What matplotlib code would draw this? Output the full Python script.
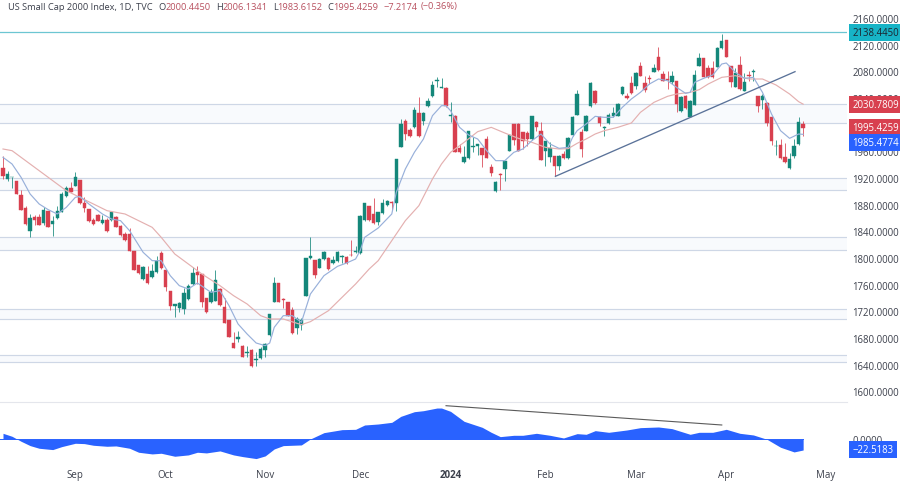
import matplotlib
matplotlib.use("Agg")
import matplotlib.pyplot as plt
import numpy as np

plt.rcParams["font.family"] = ["Open Sans", "DejaVu Sans"]

# daily candles
opens = [
    1934.5, 1918.5, 1921, 1915, 1895, 1875, 1841, 1861.5, 1861.5, 1852,
    1870, 1851.5, 1860, 1869.5, 1893.5, 1904.5, 1908.5, 1917.5, 1882, 1873.5,
    1857.5, 1865, 1852, 1857, 1856.5, 1862, 1848.5, 1836, 1836.5, 1811,
    1790, 1768.5, 1776.5, 1771.5, 1778.5, 1807, 1782.5, 1750, 1728.5, 1725,
    1723, 1738, 1760.5, 1778.5, 1775.5, 1740.5, 1734.5, 1736, 1753.5, 1726.5,
    1706.5, 1673, 1678.5, 1668.5, 1657.5, 1662.5, 1647.5, 1650, 1662.5, 1685,
    1734.5, 1762, 1738, 1734, 1722, 1694.5, 1699.5, 1742.5, 1799.5, 1797.5,
    1785, 1798.5, 1800.5, 1793, 1795, 1801.5, 1801, 1805, 1809.5, 1807.5,
    1856.5, 1878, 1865.5, 1854.5, 1867, 1880, 1883.5, 1882.5, 1967, 2006,
    1992.5, 1996, 2018, 2006, 2028, 2042.5, 2065, 2055.5, 2055, 2013.5,
    2013.5, 1965, 1943.5, 1949.5, 1966.5, 1968, 1964.5, 1978.5, 1936, 1900,
    1925.5, 1933.5, 1961, 2001, 2001, 1988.5, 1987.5, 1978.5, 2003.5, 1990.5,
    1961, 1951, 1952.5, 1937.5, 1955.5, 1949.5, 1984.5, 2015, 1988.5, 1991,
    2027.5, 2051, 2011, 1994.5, 2002.5, 2012.5, 2013.5, 2046, 2043.5, 2062,
    2058.5, 2088.5, 2062, 2069.5, 2079.5, 2101, 2076, 2068.5, 2063.5, 2065,
    2021, 2043.5, 2012, 2030, 2088.5, 2099.5, 2084.5, 2084.5, 2087, 2115,
    2127, 2087.5, 2057, 2090, 2051, 2074.5, 2078.5, 2043.5, 2037, 2032.5,
    2011.5, 1967.5, 1969.5, 1952, 1935, 1952.5, 1970.5, 2000.4450,
]
highs = [
    1953.5, 1930, 1922, 1915, 1902.5, 1878.5, 1866, 1865, 1866, 1877,
    1871, 1862.5, 1878.5, 1898.5, 1908.5, 1913.5, 1928.5, 1917.5, 1891, 1873.5,
    1859.5, 1866, 1864.5, 1859.5, 1869.5, 1863.5, 1849.5, 1839.5, 1844.5, 1811,
    1790, 1788.5, 1787.5, 1791, 1803.5, 1810.5, 1783.5, 1750, 1731, 1734.5,
    1754.5, 1761, 1786, 1787.5, 1776.5, 1740.5, 1753.5, 1781.5, 1754.5, 1740.5,
    1706.5, 1689.5, 1691, 1669.5, 1667.5, 1663.5, 1658.5, 1666, 1672.5, 1716,
    1771.5, 1762, 1740, 1734, 1726, 1711, 1709.5, 1799.5, 1831, 1797.5,
    1799.5, 1811, 1801.5, 1803.5, 1811, 1805, 1802.5, 1827.5, 1817.5, 1864.5,
    1882.5, 1878, 1889.5, 1869.5, 1888.5, 1887.5, 1886, 1948.5, 2008.5, 2008.5,
    1994.5, 2026, 2041, 2018.5, 2039.5, 2066, 2071, 2069.5, 2056, 2033.5,
    2014.5, 1971, 1967.5, 1991, 1981, 1971, 1965.5, 1983.5, 1940.5, 1915.5,
    1927, 1946, 1985.5, 2001, 2002, 1989.5, 1991, 2013.5, 2006, 2003.5,
    1976, 1973.5, 1953.5, 1954.5, 1961, 1981.5, 2012.5, 2052.5, 1993.5, 2014.5,
    2063.5, 2052, 2013.5, 1998.5, 2017.5, 2027, 2032, 2058.5, 2047, 2072.5,
    2079.5, 2093.5, 2072.5, 2074.5, 2091, 2116, 2081, 2081, 2081, 2065,
    2042.5, 2044.5, 2037, 2082.5, 2107, 2100.5, 2089.5, 2096, 2116, 2136,
    2127.5, 2088.5, 2085, 2102.5, 2077.5, 2081, 2083.5, 2043.5, 2046, 2033.5,
    2012.5, 1977, 1978.5, 1972.5, 1957, 1978.5, 2011, 2006.1341,
]
lows = [
    1918.5, 1916, 1904.5, 1896, 1872.5, 1850, 1832, 1849.5, 1849.5, 1850,
    1846.5, 1833.5, 1858.5, 1868.5, 1891, 1898.5, 1907.5, 1881, 1869.5, 1853.5,
    1850, 1855, 1851, 1839, 1855.5, 1846, 1833.5, 1826, 1810.5, 1782,
    1776, 1767, 1761, 1769.5, 1777.5, 1783.5, 1751, 1722.5, 1711, 1719.5,
    1716, 1737, 1759.5, 1761, 1726, 1717.5, 1732.5, 1735, 1728.5, 1702,
    1681.5, 1664.5, 1673.5, 1651, 1651, 1636, 1638.5, 1648.5, 1651, 1683.5,
    1733.5, 1733.5, 1725, 1713.5, 1686, 1686, 1692.5, 1742.5, 1798.5, 1769.5,
    1784.5, 1797, 1782.5, 1791.5, 1794.5, 1792.5, 1791.5, 1803.5, 1807.5, 1806,
    1855.5, 1855.5, 1851.5, 1849.5, 1866, 1878.5, 1872.5, 1871, 1966, 1977,
    1981.5, 1995, 1981.5, 1999.5, 2027, 2041, 2056, 2054.5, 2027, 2004.5,
    1958.5, 1957.5, 1942.5, 1948.5, 1958.5, 1954.5, 1936, 1949.5, 1922.5, 1899.5,
    1902.5, 1916, 1960.5, 1969.5, 1960, 1963.5, 1967.5, 1977, 1991, 1946.5,
    1937.5, 1943.5, 1923.5, 1932.5, 1948.5, 1948.5, 1983.5, 2014.5, 1951, 1990,
    2027, 2031.5, 1998.5, 1983.5, 2001.5, 2011, 2012.5, 2045, 2038.5, 2046.5,
    2053.5, 2072.5, 2049.5, 2061, 2078.5, 2081, 2065, 2053.5, 2061, 2018.5,
    2019.5, 2023.5, 2011, 2029, 2087.5, 2071, 2070, 2070, 2086, 2114,
    2101, 2056, 2056, 2052.5, 2050, 2066, 2066, 2018.5, 2023.5, 1997.5,
    1970, 1955, 1948.5, 1942.5, 1933.5, 1950, 1969.5, 1983.6152,
]
closes = [
    1922.5, 1926, 1922, 1896, 1872.5, 1851, 1860, 1856.5, 1850, 1871.5,
    1847, 1855, 1870.5, 1896.5, 1904.5, 1899.5, 1921.5, 1882, 1874.5, 1856,
    1851.5, 1856, 1857, 1840.5, 1868.5, 1847, 1834.5, 1827, 1811, 1782.5,
    1777, 1786, 1762, 1780.5, 1796, 1785, 1757, 1727.5, 1731, 1733,
    1747.5, 1757.5, 1777.5, 1774, 1734.5, 1719, 1749.5, 1767.5, 1729.5, 1703,
    1682, 1665.5, 1681.5, 1652, 1658.5, 1637.5, 1648.5, 1664, 1671, 1716,
    1762, 1734.5, 1737, 1713.5, 1687.5, 1708.5, 1707.5, 1799.5, 1802.5, 1774.5,
    1798.5, 1808.5, 1783.5, 1797, 1808.5, 1802.5, 1792.5, 1804, 1810.5, 1863.5,
    1882.5, 1856.5, 1852.5, 1868.5, 1882, 1885, 1882, 1948.5, 2001, 1986,
    1982.5, 2022, 1982.5, 2017.5, 2035.5, 2059.5, 2067.5, 2056.5, 2027.5, 2014.5,
    1959.5, 1958.5, 1952, 1990, 1968.5, 1970.5, 1955, 1950.5, 1927.5, 1914.5,
    1924.5, 1945, 1984.5, 1977, 1961, 1976, 1978.5, 2012.5, 1996, 1947.5,
    1975, 1964.5, 1937.5, 1953.5, 1949.5, 1980.5, 2011, 2046, 1963.5, 2013.5,
    2062.5, 2032.5, 2002.5, 1996, 2015, 2017.5, 2031, 2057, 2039.5, 2047.5,
    2077.5, 2073.5, 2052.5, 2068.5, 2085, 2082.5, 2066, 2067.5, 2072.5, 2031,
    2041, 2024.5, 2036, 2075, 2099.5, 2072, 2071, 2071, 2115, 2125,
    2102, 2064.5, 2077.5, 2053.5, 2064.5, 2073.5, 2080, 2028.5, 2043.5, 2002.5,
    1975, 1968.5, 1949.5, 1943.5, 1948.5, 1968.5, 2003.5, 1995.4259,
]

# moving averages, sampled at these bars
fast_bars = [0, 2, 4, 6, 8, 10, 12, 14, 16, 17, 19, 22, 24, 26, 28, 31, 33, 35, 37, 39,
             41, 43, 46, 48, 50, 52, 54, 56, 58, 59, 60, 62, 64, 66, 68, 71, 74, 76, 78, 79,
             80, 83, 86, 87, 89, 91, 93, 95, 97, 98, 99, 101, 103, 105, 107, 109, 111, 113, 115, 117,
             119, 121, 123, 125, 126, 127, 129, 131, 133, 135, 137, 139, 141, 143, 145, 147, 149, 151, 152, 153,
             155, 157, 159, 160, 162, 164, 166, 168, 170, 172, 174, 176, 177]
fast_ma = [1951, 1941, 1921, 1896, 1881, 1872.5, 1866, 1876, 1891, 1892.5, 1881, 1866, 1858.5, 1856, 1841, 1808.5, 1796, 1796, 1773.5, 1758.5,
           1753.5, 1762.5, 1748.5, 1751, 1728.5, 1701, 1686, 1672.5, 1668.5, 1672.5, 1696, 1713.5, 1713.5, 1703.5, 1746, 1773.5, 1787.5, 1792.5, 1798.5, 1811,
           1831, 1845, 1866, 1898.5, 1933.5, 1958.5, 1978.5, 2013.5, 2028.5, 2028.5, 2021, 1996, 1984.5, 1978.5, 1961, 1946, 1946, 1958.5, 1963.5, 1976,
           1986, 1971, 1964.5, 1966, 1981, 1991, 2001, 2012.5, 2011, 2011, 2026, 2038.5, 2048.5, 2061, 2068.5, 2066, 2056, 2047, 2048.5, 2063.5,
           2069.5, 2074.5, 2091, 2092.5, 2078.5, 2069.5, 2071, 2048.5, 2016, 1991, 1979.5, 1986, 1985.4774]

slow_bars = [0, 2, 4, 7, 9, 12, 14, 17, 20, 23, 27, 30, 33, 35, 38, 41, 44, 48, 51, 54,
             57, 59, 62, 66, 68, 72, 75, 78, 81, 83, 86, 89, 92, 95, 97, 99, 102, 105, 108, 111,
             114, 117, 120, 123, 125, 127, 129, 131, 133, 136, 139, 141, 144, 147, 149, 152, 154, 156, 159, 162,
             165, 168, 171, 174, 176, 177]
slow_ma = [1963.5, 1961, 1951, 1936, 1926, 1911, 1901, 1891, 1881, 1871, 1866, 1856, 1846, 1831, 1806, 1791, 1776, 1758.5, 1743.5, 1731,
           1713.5, 1708.5, 1708.5, 1700, 1704.5, 1721, 1741, 1761, 1783.5, 1796, 1826, 1856, 1878.5, 1918.5, 1941, 1958.5, 1973.5, 1989.5, 1996, 1987.5,
           1979.5, 1973.5, 1966, 1963.5, 1964, 1972, 1978.5, 1986, 1991, 1996, 2002.5, 2018.5, 2033.5, 2042.5, 2046, 2048.5, 2052.5, 2061, 2071, 2073.5,
           2068.5, 2068.5, 2059.5, 2046, 2034.5, 2030.7809]

# lower panel oscillator
osc_bars = [0, 2, 4, 6, 8, 11, 13, 16, 18, 20, 23, 25, 28, 30, 33, 35, 38, 41, 43, 45,
            48, 51, 53, 56, 58, 60, 62, 66, 68, 71, 75, 78, 80, 83, 86, 88, 91, 93, 96, 97,
            99, 102, 106, 108, 110, 113, 115, 118, 121, 124, 127, 129, 131, 134, 138, 141, 145, 148, 152, 154,
            157, 160, 163, 166, 169, 172, 175, 177]
osc_values = [12.6, 6.3, -4.2, -13.3, -18.9, -21.7, -15.4, -8.4, -9.1, -12.6, -14.7, -14, -18.9, -27.3, -30.8, -29.4, -35.7, -32.9, -27.3, -28.7,
              -24.5, -32.9, -36.4, -40.6, -35, -20.3, -13.3, -11.9, 0.7, 14, 20.3, 21, 30.1, 32.2, 35.7, 48.3, 58.1, 60.2, 65.8, 65.8,
              58.8, 37.8, 25.2, 14.7, 5.6, 8.4, 8.4, 12.6, 8.4, 2.8, 11.9, 10.5, 18.2, 14.7, 19.6, 24.5, 25.9, 22.4, 10.5, 14.7,
              14.7, 21, 12.6, 9.1, 0, -16.8, -26.6, -22.5183]

# horizontal zones (upper, lower)
zones = [(2030.5, 2002), (1919.5, 1902), (1831, 1811.5), (1723, 1708.5), (1654, 1643.5)]
resistance = 2138.4450

month_bars = [16, 36, 58, 79, 99, 120, 140, 160, 182]
month_labels = ["Sep", "Oct", "Nov", "Dec", "2024", "Feb", "Mar", "Apr", "May"]
price_ticks = list(range(1600, 2161, 40))

GREEN = "#14877a"
RED = "#d8404f"
BLUE = "#2962ff"
TEXT = "#3c404c"
ZONE_LINE = "#ced7e6"

W, H = 900, 485
fig = plt.figure(figsize=(W / 100, H / 100), dpi=100, facecolor="white")
ax = fig.add_axes([0, (H - 403) / H, 847 / W, 403 / H])
osc = fig.add_axes([0, (H - 465) / H, 847 / W, 62 / H])

bars = np.arange(len(opens))
o, h, l, c = map(np.array, (opens, highs, lows, closes))
colours = np.where(c >= o, GREEN, RED)

for top, bottom in zones:
    ax.axhspan(bottom, top, color="#f8fafd", lw=0, zorder=0)
    ax.axhline(top, color=ZONE_LINE, lw=0.85, zorder=1)
    ax.axhline(bottom, color=ZONE_LINE, lw=0.85, zorder=1)
ax.axhline(resistance, color="#6cc6d2", lw=0.9, zorder=1)

ax.vlines(bars, l, h, colors=colours, lw=0.7, zorder=3, alpha=0.8)
ax.bar(bars, np.abs(c - o), bottom=np.minimum(o, c), width=0.76, color=colours,
       edgecolor=colours, lw=0.3, zorder=4)

ax.plot(slow_bars, slow_ma, color="#e4b0b0", lw=0.85, zorder=5)
ax.plot(fast_bars, fast_ma, color="#98b0da", lw=0.85, zorder=5)
ax.plot([122.2, 175.2], [1922.5, 2079.5], color="#5a7299", lw=0.95, zorder=6)

ax.set_xlim(-0.664, 186.7)
ax.set_ylim(1584, 2188.5)
ax.set_xticks([])
ax.yaxis.tick_right()
ax.set_yticks(price_ticks)
ax.set_yticklabels([f"{p:.4f}" for p in price_ticks], fontsize=6.9, color=TEXT)
ax.tick_params(axis="y", length=0, pad=4)
for s in ax.spines.values():
    s.set_visible(False)

osc.fill_between(osc_bars, osc_values, 0, color=BLUE, lw=0, zorder=2)
osc.axhline(0, xmin=0, xmax=(177 + 0.664) / 187.364, color=BLUE, lw=0.7, zorder=2)
osc.plot([98, 159], [70.7, 30.1], color="#5a5a5a", lw=0.8, zorder=3)
osc.set_xlim(-0.664, 186.7)
osc.set_ylim(-52, 78.5)
osc.yaxis.tick_right()
osc.set_yticks([0])
osc.set_yticklabels(["0.0000"], fontsize=6.9, color=TEXT)
osc.set_xticks(month_bars)
osc.set_xticklabels(month_labels, fontsize=7.0, color=TEXT)
osc.get_xticklabels()[4].set_fontweight("bold")
osc.tick_params(axis="both", length=0)
osc.tick_params(axis="x", pad=3.5)
osc.tick_params(axis="y", pad=4)
for name, s in osc.spines.items():
    s.set_visible(name == "top")
osc.spines["top"].set_color("#e4e6ec")
osc.spines["top"].set_linewidth(0.8)


def price_box(axis, value, text, bg, fg="white", shown_at=None):
    # label on the price scale, shown_at moves it when labels would overlap
    axis.annotate(text, xy=(1, shown_at if shown_at is not None else value),
                  xycoords=("axes fraction", "data"), xytext=(4, 0), textcoords="offset points",
                  fontsize=6.9, color=fg, va="center", ha="left", zorder=10, annotation_clip=False,
                  bbox=dict(boxstyle="square,pad=0.32", fc=bg, ec="none"))


price_box(ax, resistance, "2138.4450", "#17b3c6", fg="#1c2430")
price_box(ax, 2030.7809, "2030.7809", RED)
price_box(ax, 1995.4259, "1995.4259", RED)
price_box(ax, 1985.4774, "1985.4774", BLUE, shown_at=1973.5)
price_box(osc, -22.5183, "\u221222.5183", BLUE, shown_at=-21)

# header line, pieces laid out one after the other
renderer = fig.canvas.get_renderer()
pieces = [("US Small Cap 2000 Index, 1D, TVC", TEXT, 8), ("O", TEXT, 6), ("2000.4450", "#b8505f", 0),
          ("H", TEXT, 5), ("2006.1341", "#b8505f", 0), ("L", TEXT, 5), ("1983.6152", "#b8505f", 0),
          ("C", TEXT, 5), ("1995.4259", "#b8505f", 0), ("\u22127.2174", "#b8505f", 5),
          ("(\u22120.36%)", "#b8505f", 3)]
x_px = 0
for text, colour, gap in pieces:
    x_px += gap
    t = fig.text(x_px / W, 1 - 7 / H, text, fontsize=6.65, color=colour, va="center", ha="left")
    x_px = t.get_window_extent(renderer).x1

fig.savefig("out.png", dpi=100)
